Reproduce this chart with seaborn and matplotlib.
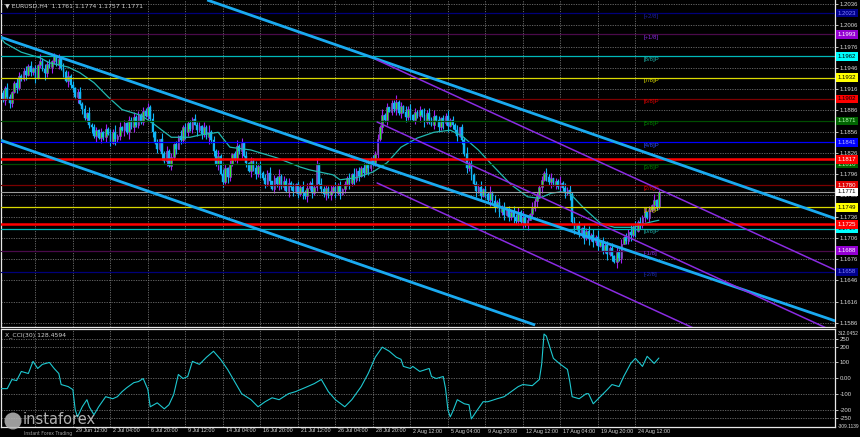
import numpy as np
import pandas as pd
import matplotlib
matplotlib.use("Agg")
import matplotlib.pyplot as plt
import matplotlib.transforms as mtransforms
from matplotlib.patches import Ellipse
import seaborn as sns

sns.set_theme(style="dark")
plt.rcParams['font.family'] = ['DejaVu Sans']

# ---------------- data ----------------
BASE = 1.16      # closes given in pips above this base
PIP = 0.0001

closes = [
    310, 300, 318, 305, 296, 312,
    325, 318, 335, 330, 342, 336, 348, 340,
    345, 332, 350, 356, 344, 338, 352, 347,
    355, 362, 350, 358, 346,
    340, 328, 335, 322,
    318, 305, 312, 295,
    288, 275, 282, 265,
    262, 250, 258, 247, 255,
    248, 260, 252, 240, 256, 245, 250, 262,
    258, 268, 255, 272, 262, 276, 266, 280, 270,
    285, 278, 290, 274,
    255, 240, 232, 245, 225, 215, 228, 208,
    220, 238, 232, 250, 244, 262, 255, 268, 260, 274, 266, 258, 264,
    252, 262, 248, 256, 244,
    228, 210, 222, 196, 185, 205, 192, 210,
    224, 218, 236, 228, 240, 222,
    212, 200, 215, 205, 196, 208, 198,
    190, 182, 198, 186, 175, 190, 182, 194, 178, 186, 172, 184, 178,
    172, 182, 168, 178, 170, 165, 176, 184, 170, 178, 210, 182, 175, 168, 176, 166, 172,
    178, 170, 180, 168, 175, 182,
    190, 184, 196, 188, 200, 194, 205,
    198, 210, 204, 218, 212, 225,
    245, 262,
    280, 272, 290, 284, 296, 288, 298, 282, 292,
    284, 276, 288, 280, 272, 284, 278, 286,
    280, 270, 282, 274, 266, 278, 272, 262, 275, 268, 278, 264, 272, 266,
    258, 250, 262, 244,
    225, 205, 212, 195,
    182, 172, 178, 165, 175, 168, 160, 170,
    158, 150, 156, 142, 150, 138, 146, 135, 142,
    136, 130, 142, 128, 136, 124, 132, 140,
    148, 158, 166, 178, 188, 198,
    192, 185, 190, 180, 186, 178, 184,
    176, 170, 174, 168,
    128,
    118, 124, 112, 120, 106, 116, 104, 110,
    100, 108, 94, 102, 88, 96, 84, 92,
    80, 72, 86, 78,
    98, 108, 102, 115, 110, 122, 116, 128, 124,
    136, 142, 134, 146,
    152, 160, 150, 171,
]
first_open = 305

wick_up = [int(c) for c in (
    "3526413752" "4638251947" "3625184736" "2514736283" "5416273849"
    "3725164835" "2647382519" "4736251846" "3527461839" "2648375162"
    "4837261549" "3726481539" "2847361528" "4736291845" "3827461538"
    "2946371825" "4738261549" "3628471536" "2947381625" "4836271549"
    "3725481639" "2846371529" "4738261845" "3627481539" "2846371625"
    "4738291546" "3728461539" "2847361528" "12")]
wick_dn = [int(c) for c in (
    "4263751842" "3716482539" "5284163729" "4618273548" "3927461528"
    "4618293745" "3528471639" "4726381549" "5361827439" "4628173952"
    "3749261857" "4826371549" "3518472639" "4927361548" "3628471539"
    "5837261945" "4628371549" "3726481539" "4837261548" "3926471538"
    "4738261549" "3827461539" "4628371548" "3926481537" "4738261549"
    "3827461539" "4628571548" "3926481537" "43")]

ma_bar = [0, 2, 9, 17, 21, 29, 34, 40, 46, 52, 60, 65, 73, 81, 85, 93, 98, 107, 118, 128,
          132, 142, 145, 152, 159, 165, 171, 178, 185, 192, 197, 204, 209, 218, 225, 230,
          235, 239, 243, 249, 256, 262, 270, 277, 281]
ma_pip = [389, 381, 368, 360, 353, 347, 339, 325, 305, 287, 279, 268, 248, 248, 251, 255,
          234, 230, 219, 206, 202, 195, 188, 191, 199, 212, 234, 247, 255, 258, 250, 230,
          212, 181, 164, 162, 169, 171, 169, 148, 127, 121, 121, 128, 131]

cci_bar = [0, 3, 5, 7, 9, 12, 14, 16, 18, 21, 23, 25, 26, 29, 31, 32, 33, 35, 37, 38,
           40, 42, 45, 48, 50, 52, 54, 57, 59, 61, 63, 64, 67, 70, 72, 74, 76, 78, 80, 82,
           84, 85, 88, 91, 94, 97, 100, 103, 107, 110, 113, 116, 119, 123, 126, 130, 134,
           137, 140, 143, 147, 150, 154, 157, 160, 163, 166, 169, 171, 172, 175, 176, 179,
           183, 184, 186, 189, 190, 191, 192, 193, 195, 198, 200, 201, 203, 206, 208, 212,
           215, 218, 221, 223, 227, 230, 231, 232, 233, 236, 239, 242, 243, 244, 247, 250,
           251, 253, 256, 259, 261, 264, 266, 269, 271, 274, 276, 279, 281]
cci_val = [-66, -66, -8, -15, 43, 30, 107, 62, 88, 100, 62, 30, -40, -53, -72, -200, -245,
           -181, -136, -181, -232, -181, -117, -130, -117, -85, -60, -28, -21, -2, -72, -181,
           -156, -194, -168, -104, 24, -2, 11, 107, 94, 88, 133, 171, 120, 56, -21, -98,
           -136, -181, -149, -124, -136, -98, -85, -60, -34, -8, -85, -136, -181, -136, -53,
           30, 133, 197, 171, 133, 120, 75, 62, 75, 43, 62, 11, -2, 11, -66, -200, -245,
           -213, -136, -162, -168, -258, -213, -149, -149, -130, -117, -85, -53, -40, -47,
           -8, 88, 280, 267, 126, 88, 56, -21, -117, -130, -98, -98, -162, -117, -72, -40,
           -53, 11, 94, 126, 75, 139, 94, 128]

date_labels = ["29 Jun 12:00", "2 Jul 04:00", "6 Jul 20:00", "9 Jul 12:00",
               "14 Jul 04:00", "16 Jul 20:00", "21 Jul 12:00", "26 Jul 04:00", "28 Jul 20:00",
               "2 Aug 12:00", "5 Aug 04:00", "9 Aug 20:00", "12 Aug 12:00", "17 Aug 04:00",
               "19 Aug 20:00", "24 Aug 12:00"]
date_bars = [31, 47, 63, 79, 95, 111, 127, 143, 159, 175, 191, 207, 223, 239, 255, 271]
grid_bars = [15] + date_bars

price_ticks = [1.2036, 1.2006, 1.1976, 1.1946, 1.1916, 1.1886, 1.1856, 1.1826, 1.1796,
               1.1766, 1.1736, 1.1706, 1.1676, 1.1646, 1.1616, 1.1586]

mm_prices = [1.2023, 1.1993, 1.1962, 1.1932, 1.1902, 1.1871, 1.1841,
             1.1810, 1.1780, 1.1749, 1.1719, 1.1688, 1.1658]
mm_names = ["[+2/8]", "[+1/8]", "[8/8]P", "[7/8]P", "[6/8]P", "[5/8]P", "[4/8]P",
            "[3/8]P", "[2/8]P", "[1/8]P", "[0/8]P", "[-1/8]", "[-2/8]"]
mm_line_col = ['#00007a', '#4a0a4a', '#00b8b8', '#d8d800', '#7a0000', '#004d00', '#0000ff',
               '#004d00', '#7a0000', '#d8d800', '#00b8b8', '#4a0a4a', '#00007a']
mm_text_col = ['#2020a0', '#8a2be2', '#20b2aa', '#e0e000', '#e00000', '#008000', '#3050ff',
               '#008000', '#e00000', '#e0e000', '#20b2aa', '#8a2be2', '#2030b0']
mm_box_col = ['#00008b', '#9400d3', '#00ffff', '#ffff00', '#ff0000', '#006400', '#0000ff',
              '#006400', '#e00000', '#ffff00', '#00ffff', '#9400d3', '#00008b']
mm_box_txt = ['#8080ff', '#ffffff', '#000000', '#000000', '#000000', '#b0ffb0', '#c0c0ff',
              '#b0ffb0', '#ffffff', '#000000', '#000000', '#ffffff', '#8080ff']

sr_prices = [1.1817, 1.1725]      # thick red levels
bid_price = 1.1771

# channel / trend lines: (bar1, pip1, bar2, pip2)
blue_lines = [(88.3, 441.6, 356.2, 133.4),
              (0.0, 389.4, 356.2, -11.0),
              (0.0, 244.1, 228.2, -16.8)]
purple_lines = [(160.8, 357.0, 356.2, 60.8),
                (160.8, 269.5, 356.2, -26.7),
                (160.8, 183.5, 356.2, -112.7)]

cci_ticks = [250, 200, 100, 0, -100, -200, -250]
cci_tick_labels = ["250", "200", "100", "0.00", "-100", "-200", "-250"]
cci_min, cci_max = -309.1139, 312.0452

# ---------------- figure ----------------
W, H = 860, 437
fig = plt.figure(figsize=(W / 100, H / 100), dpi=100, facecolor='black')


def box(x0, y0, x1, y1):
    return [x0 / W, 1 - y1 / H, (x1 - x0) / W, (y1 - y0) / H]


ax = fig.add_axes(box(1, 0, 835, 327))
axc = fig.add_axes(box(1, 329, 835, 427), sharex=ax)

PXB = 2.344
xmin = 0.34
xmax = xmin + 834 / PXB
FS = 4.3
SMALL = ['Liberation Sans', 'DejaVu Sans']

for a in (ax, axc):
    a.set_facecolor('black')
    for s in a.spines.values():
        s.set_color('#e8e8e8')
        s.set_linewidth(0.9)
    a.grid(False)
ax.spines['top'].set_visible(False)

ax.set_xlim(xmin, xmax)
ax.set_ylim(1.20416 - 327 / 7090, 1.20416)
axc.set_ylim(cci_min, cci_max)

grid_kw = dict(color='#7c7c7c', lw=0.55, ls=(0, (1.6, 1.6)), zorder=0.5)
for p in price_ticks:
    ax.axhline(p, **grid_kw)
for b in grid_bars:
    ax.axvline(b, **grid_kw)
    axc.axvline(b, **grid_kw)
for v in cci_ticks:
    axc.axhline(v, **grid_kw)

# candles
n = len(closes)
idx = np.arange(n)
c = BASE + np.array(closes) * PIP
o = np.concatenate([[BASE + first_open * PIP], c[:-1]])
hi = np.maximum(o, c) + np.array(wick_up[:n]) * PIP
lo = np.minimum(o, c) - np.array(wick_dn[:n]) * PIP
up = c >= o
UPC, BULL, DNC = '#a020f0', '#28f028', '#10b4f4'
ax.vlines(idx[up], lo[up], hi[up], colors=UPC, lw=0.8, zorder=2)
ax.vlines(idx[~up], lo[~up], hi[~up], colors=DNC, lw=0.8, zorder=2)
hgt = np.where(np.abs(c - o) < 0.00008, 0.00008, np.abs(c - o))
ax.bar(idx[up], hgt[up], bottom=np.minimum(o, c)[up], width=0.72, color=BULL,
       edgecolor=UPC, linewidth=0.45, zorder=2.1)
ax.bar(idx[~up], hgt[~up], bottom=np.minimum(o, c)[~up], width=0.72, color=DNC,
       edgecolor=DNC, linewidth=0.3, zorder=2.1)

# moving average
ma_df = pd.DataFrame({'bar': ma_bar, 'price': BASE + np.array(ma_pip) * PIP})
sns.lineplot(data=ma_df, x='bar', y='price', ax=ax, color='#22b8b0', lw=0.9,
             estimator=None, sort=True, zorder=3)

# Murray levels
for p, lc in zip(mm_prices, mm_line_col):
    ax.axhline(p, color=lc, lw=0.9, zorder=3.2)
for p, nm, tc in zip(mm_prices, mm_names, mm_text_col):
    ax.text(274.5, p - 0.00006, nm, color=tc, fontsize=FS, family=SMALL,
            va='top', ha='left', zorder=3.3)
for p in sr_prices:
    ax.axhline(p, color='#ff0000', lw=1.8, zorder=3.4)
ax.axhline(bid_price, color='#9a9a9a', lw=0.8, zorder=3.3)

# channels
for x1, p1, x2, p2 in blue_lines:
    ax.plot([x1, x2], [BASE + p1 * PIP, BASE + p2 * PIP], color='#1aaaf0', lw=2.0,
            solid_capstyle='butt', zorder=4)
for x1, p1, x2, p2 in purple_lines:
    ax.plot([x1, x2], [BASE + p1 * PIP, BASE + p2 * PIP], color='#8a2be2', lw=1.1, zorder=4)

ax.set_xlim(xmin, xmax)
ax.set_xlabel('')
ax.set_ylabel('')

# right price axis
ax.yaxis.tick_right()
ax.set_yticks(price_ticks)
ax.set_yticklabels([f"{p:.4f}" for p in price_ticks], family=SMALL)
ax.tick_params(axis='y', length=2.0, width=0.6, pad=1.2, labelsize=FS,
               colors='#d8d8d8', direction='out', right=True, left=False)
ax.tick_params(axis='x', bottom=False, labelbottom=False)

trans = mtransforms.blended_transform_factory(ax.transAxes, ax.transData)
box_kw = dict(boxstyle='square,pad=0.3', ec='none')
lab_x = 1.0033
for p, bc, tc in zip(mm_prices, mm_box_col, mm_box_txt):
    ax.text(lab_x, p, f"{p:.4f}", transform=trans, fontsize=FS, color=tc, family=SMALL,
            va='center', ha='left', bbox=dict(fc=bc, **box_kw), clip_on=False, zorder=6)
for p in sr_prices:
    ax.text(lab_x, p, f"{p:.4f}", transform=trans, fontsize=FS, color='#ffffff', family=SMALL,
            va='center', ha='left', bbox=dict(fc='#ff0000', **box_kw), clip_on=False, zorder=6)
ax.text(lab_x, bid_price, f"{bid_price:.4f}", transform=trans, fontsize=FS, color='#000000',
        family=SMALL, va='center', ha='left', bbox=dict(fc='#ffffff', **box_kw),
        clip_on=False, zorder=6)

ax.text(4 / 834, 1 - 6 / 327, "\u25bc EURUSD,H4  1.1761 1.1774 1.1757 1.1771",
        transform=ax.transAxes, fontsize=4.4, color='#d0d0d0', va='center', ha='left')

# CCI panel
cci_df = pd.DataFrame({'bar': cci_bar, 'cci': cci_val})
sns.lineplot(data=cci_df, x='bar', y='cci', ax=axc, color='#1ec8d0', lw=0.8,
             estimator=None, sort=True, zorder=3)
axc.set_xlim(xmin, xmax)
axc.set_xlabel('')
axc.set_ylabel('')
axc.yaxis.tick_right()
axc.set_yticks(cci_ticks)
axc.set_yticklabels(cci_tick_labels, family=SMALL)
axc.tick_params(axis='y', length=2.0, width=0.6, pad=1.2, labelsize=FS,
                colors='#d8d8d8', direction='out', right=True, left=False)
axc.tick_params(axis='x', bottom=False, labelbottom=False)
tc_ = axc.transAxes
axc.text(1.0030, 0.955, "312.0452", transform=tc_, fontsize=3.6, color='#d8d8d8',
         family=SMALL, va='center', ha='left', clip_on=False)
axc.text(1.0030, 0.0, "-309.1139", transform=tc_, fontsize=3.5, color='#d8d8d8',
         family=SMALL, va='center', ha='left', clip_on=False)
axc.text(4 / 834, 0.94, "X_CCI(30) 128.4594", transform=axc.transAxes, fontsize=4.4,
         color='#d0d0d0', va='center', ha='left')

# date labels
dtr = mtransforms.blended_transform_factory(axc.transData, fig.transFigure)
for b, lab in zip(date_bars, date_labels):
    axc.text(b + 1.2, 1 - 431 / H, lab, transform=dtr, fontsize=3.9, color='#d8d8d8',
             family=SMALL, va='center', ha='left', clip_on=False)

# watermark logo
fig.patches.append(Ellipse((13 / W, 1 - 421 / H), 17 / W, 17 / H, transform=fig.transFigure,
                           fc='#b8b8b8', ec='none', alpha=0.85, zorder=10))
fig.text(23 / W, 1 - 420 / H, "instaforex", fontsize=10.5, color='#c4c4c4', alpha=0.9,
         ha='left', va='center', zorder=11)
fig.text(24 / W, 1 - 433.5 / H, "Instant Forex Trading", fontsize=3.3, color='#a0a0a0',
         ha='left', va='center', zorder=11)

fig.savefig("out.png", dpi=100, facecolor='black')
